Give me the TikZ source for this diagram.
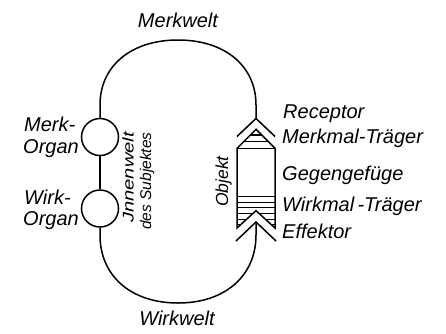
\documentclass[tikz,border=0pt]{standalone}
\usepackage{fontspec}
\usepackage{graphicx}
\setmainfont{Liberation Sans}
\begin{document}
\begin{tikzpicture}[x=1pt,y=-1pt,
  line/.style={line width=1.5pt,line join=miter},
  hatch/.style={line width=1.1pt},
  organ/.style={circle,draw,line width=1.5pt,minimum size=37pt,inner sep=0pt},
  lbl/.style={font=\itshape\fontsize{20}{22}\selectfont,inner sep=0pt},
  vlbl/.style={inner sep=0pt,rotate=90,anchor=base west}]
\useasboundingbox[fill=white] (0,0) rectangle (446,333);

% sense and effect organs of the subject
\node[organ] (merk) at (100,137) {};
\node[organ] (wirk) at (100,208.5) {};
\draw[line] (merk.south) -- (wirk.north);

% tips of receptor and effector
\coordinate (rtip) at (256,118.5);
\coordinate (etip) at (256,222);

% Merkwelt loop
\draw[line] (merk.north) -- (100,105)
  .. controls (100,66) and (131,40) .. (178,40)
  .. controls (225,40) and (256,66) .. (256,105) -- (rtip);

% Wirkwelt loop
\draw[line] (wirk.south) -- (100,235)
  .. controls (100,276) and (131,303) .. (178,303)
  .. controls (225,303) and (256,276) .. (256,235) -- (etip);

% receptor and effector chevrons
\draw[line] (237,136.5) -- (rtip) -- (275,136.5);
\draw[line] (236,241) -- (etip) -- (276,241);

% the object with its pointed top and notched bottom
\draw[line] (237,148.3) -- (256,129.3) -- (275,148.3) -- (275,228)
  -- (256,210.7) -- (237,228) -- cycle;
\draw[line] (237,148.3) -- (275,148.3);

% hatching of the Merkmal carrier
\begin{scope}
  \clip (237,148.3) -- (256,129.3) -- (275,148.3) -- cycle;
  \foreach \y in {135,141.7}
    \draw[hatch] (230,\y) -- (282,\y);
\end{scope}

% hatching of the Wirkmal carrier
\begin{scope}
  \clip (237,190) -- (275,190) -- (275,228) -- (256,210.7) -- (237,228) -- cycle;
  \foreach \y in {196.7,202.3,207.9,213.5,219.1,224.7}
    \draw[hatch] (230,\y) -- (282,\y);
\end{scope}

% labels
\node[lbl,anchor=base] (merkwelt) at (178,27) {Merkwelt};
\node[lbl,anchor=base] (wirkwelt) at (177,325) {Wirkwelt};

\node[lbl,anchor=base west] (merkA) at (24,131.5) {Merk-};
\node[lbl,anchor=base west] (merkB) at (23,153) {Organ};
\node[lbl,anchor=base west] (wirkA) at (24,204) {Wirk-};
\node[lbl,anchor=base west] (wirkB) at (23,225) {Organ};

\node[lbl,anchor=base west] (receptor) at (283,118.5) {Receptor};
\node[lbl,anchor=base west] (mtraeger) at (282,143.5) {Merkmal-Träger};
\node[lbl,anchor=base west] (gegen) at (282,180) {Gegengefüge};
\node[lbl,anchor=base west] (wtraeger) at (282,211.5) {Wirkmal\,-Träger};
\node[lbl,anchor=base west] (effektor) at (282,238.5) {Effektor};

\node[vlbl,font=\itshape\fontsize{15.5}{17}\selectfont] (innen1) at (133.5,223)
  {\scalebox{1.3}[1]{Jnnenwelt}};
\node[vlbl,font=\itshape\fontsize{15.5}{17}\selectfont] (innen2) at (151,230)
  {\scalebox{1.0}[1]{des Subjektes}};
\node[vlbl,font=\itshape\fontsize{17.5}{19}\selectfont] (objekt) at (228,207)
  {Objekt};
\end{tikzpicture}
\end{document}
